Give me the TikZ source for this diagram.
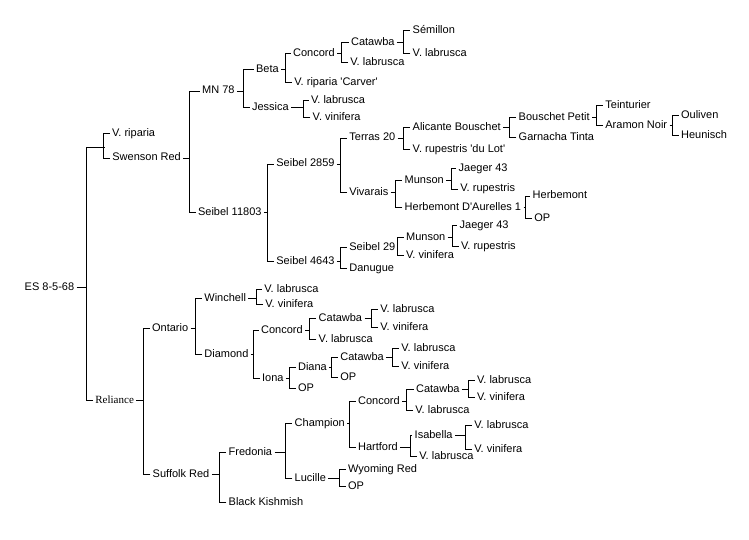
\documentclass[tikz,border=0pt]{standalone}
\usepackage{fontspec}
\setmainfont{Liberation Sans}
\newfontfamily\relfont{Liberation Serif}
\usepackage{tikz}
\usetikzlibrary{positioning}
\tikzstyle{vine node}=[anchor=west, xshift=-2pt, inner xsep=2pt, inner ysep=0pt, text height=8pt, text depth=2pt, font=\fontsize{11}{13}\selectfont]
\tikzstyle{cross node}=[inner sep=0pt, minimum size=0pt]
\newcommand{\parentage}[3]{%
  \draw (#3.west) -- ++(-6.5pt,0) coordinate (j) |- (#2.west);
  \draw (#1.east) -- (#1.east -| j);
}

\begin{document}
\begin{tikzpicture}[x=1pt, y=-1pt, line width=0.8pt]
\useasboundingbox (0,0) rectangle (749,540);
%
  \node[vine node] (es) at (24.3,287.3) {ES 8-5-68};
  \node[cross node] (cross) at (103.5,147) {};
%
  \node[vine node] (vrip) at (111.7,133.7) {V. riparia};
  \node[vine node] (swen) at (112,158) {Swenson Red};
  \node[vine node] (mn) at (201.7,91) {MN 78};
  \node[vine node] (s11803) at (197.7,212) {Seibel 11803};
  \node[vine node] (beta) at (255.7,69.3) {Beta};
  \node[vine node] (jess) at (251.7,107.7) {Jessica};
  \node[vine node] (conc1) at (292.7,53.3) {Concord};
  \node[vine node] (carver) at (294,82.3) {V. riparia \textquotesingle Carver\textquotesingle};
  \node[vine node] (cat1) at (350.7,42.3) {Catawba};
  \node[vine node] (lab1) at (350,62.3) {V. labrusca};
  \node[vine node] (sem) at (412.3,30.3) {Sémillon};
  \node[vine node] (lab2) at (412.3,53.3) {V. labrusca};
  \node[vine node] (lab3) at (310.7,100.7) {V. labrusca};
  \node[vine node] (vin3) at (312.3,117.3) {V. vinifera};
%
  \node[vine node] (s2859) at (276,164) {Seibel 2859};
  \node[vine node] (s4643) at (276,261) {Seibel 4643};
  \node[vine node] (terras) at (349,138) {Terras 20};
  \node[vine node] (viv) at (349,192.7) {Vivarais};
  \node[vine node] (ali) at (412.3,127.7) {Alicante Bouschet};
  \node[vine node] (lot) at (412.3,149.3) {V. rupestris \textquotesingle du Lot\textquotesingle};
  \node[vine node] (bp) at (518.3,117.3) {Bouschet Petit};
  \node[vine node] (gar) at (518.3,137.3) {Garnacha Tinta};
  \node[vine node] (tei) at (605,105.3) {Teinturier};
  \node[vine node] (ara) at (605,125.3) {Aramon Noir};
  \node[vine node] (oul) at (680.7,115.3) {Ouliven};
  \node[vine node] (heu) at (680.7,135.3) {Heunisch};
  \node[vine node] (mun1) at (404.3,180) {Munson};
  \node[vine node] (hda) at (404.3,207.3) {Herbemont D\textquotesingle Aurelles 1};
  \node[vine node] (jae1) at (458.3,168.3) {Jaeger 43};
  \node[vine node] (rup1) at (460,189) {V. rupestris};
  \node[vine node] (herb) at (532.3,196) {Herbemont};
  \node[vine node] (op1) at (534,218.3) {OP};
  \node[vine node] (s29) at (349,247.7) {Seibel 29};
  \node[vine node] (dan) at (349,268.7) {Danugue};
  \node[vine node] (mun2) at (405.7,237.3) {Munson};
  \node[vine node] (vin4) at (405.7,255) {V. vinifera};
  \node[vine node] (jae2) at (459.3,225) {Jaeger 43};
  \node[vine node] (rup2) at (460.7,246) {V. rupestris};
%
  \node[vine node, font=\fontsize{11}{13}\relfont] (rel) at (95,400.3) {Reliance};
  \node[vine node] (ont) at (151.7,328.3) {Ontario};
  \node[vine node] (suf) at (152.3,474) {Suffolk Red};
  \node[vine node] (win) at (204,298.3) {Winchell};
  \node[vine node] (dia) at (204,354) {Diamond};
  \node[vine node] (lab5) at (264,289) {V. labrusca};
  \node[vine node] (vin5) at (265,304) {V. vinifera};
  \node[vine node] (conc2) at (260.7,330.7) {Concord};
  \node[vine node] (iona) at (261.7,378.3) {Iona};
  \node[vine node] (cat2) at (318.3,318.3) {Catawba};
  \node[vine node] (lab6) at (318.3,339.3) {V. labrusca};
  \node[vine node] (lab7) at (380,309.3) {V. labrusca};
  \node[vine node] (vin7) at (380,327.3) {V. vinifera};
  \node[vine node] (diana) at (297.7,367.3) {Diana};
  \node[vine node] (op2) at (297.7,388.3) {OP};
  \node[vine node] (cat3) at (340,357.3) {Catawba};
  \node[vine node] (op3) at (340,377.3) {OP};
  \node[vine node] (lab8) at (401,348.3) {V. labrusca};
  \node[vine node] (vin8) at (401,366) {V. vinifera};
%
  \node[vine node] (fred) at (228.3,452.7) {Fredonia};
  \node[vine node] (bk) at (228.3,502.3) {Black Kishmish};
  \node[vine node] (champ) at (294.3,423.3) {Champion};
  \node[vine node] (luc) at (294.3,478.3) {Lucille};
  \node[vine node] (conc3) at (357.7,401) {Concord};
  \node[vine node] (hart) at (357.7,447.3) {Hartford};
  \node[vine node] (wyo) at (347.7,469.3) {Wyoming Red};
  \node[vine node] (op4) at (347.7,486.7) {OP};
  \node[vine node] (cat4) at (415.7,389) {Catawba};
  \node[vine node] (lab9) at (415,410) {V. labrusca};
  \node[vine node] (lab10) at (476.7,380) {V. labrusca};
  \node[vine node] (vin10) at (476.7,397.7) {V. vinifera};
  \node[vine node] (isa) at (414.3,435) {Isabella};
  \node[vine node] (lab11) at (419,456.7) {V. labrusca};
  \node[vine node] (lab12) at (474,425.7) {V. labrusca};
  \node[vine node] (vin12) at (474,449) {V. vinifera};
%
  \parentage{es}{cross}{rel}
  \parentage{cross}{vrip}{swen}
  \parentage{swen}{mn}{s11803}
  \parentage{mn}{beta}{jess}
  \parentage{beta}{conc1}{carver}
  \parentage{conc1}{cat1}{lab1}
  \parentage{cat1}{sem}{lab2}
  \parentage{jess}{lab3}{vin3}
  \parentage{s11803}{s2859}{s4643}
  \parentage{s2859}{terras}{viv}
  \parentage{terras}{ali}{lot}
  \parentage{ali}{bp}{gar}
  \parentage{bp}{tei}{ara}
  \parentage{ara}{oul}{heu}
  \parentage{viv}{mun1}{hda}
  \parentage{mun1}{jae1}{rup1}
  \parentage{hda}{herb}{op1}
  \parentage{s4643}{s29}{dan}
  \parentage{s29}{mun2}{vin4}
  \parentage{mun2}{jae2}{rup2}
%
  \parentage{rel}{ont}{suf}
  \parentage{ont}{win}{dia}
  \parentage{win}{lab5}{vin5}
  \parentage{dia}{conc2}{iona}
  \parentage{conc2}{cat2}{lab6}
  \parentage{cat2}{lab7}{vin7}
  \parentage{iona}{diana}{op2}
  \parentage{diana}{cat3}{op3}
  \parentage{cat3}{lab8}{vin8}
  \parentage{suf}{fred}{bk}
  \parentage{fred}{champ}{luc}
  \parentage{champ}{conc3}{hart}
  \parentage{luc}{wyo}{op4}
  \parentage{conc3}{cat4}{lab9}
  \parentage{cat4}{lab10}{vin10}
  \parentage{hart}{isa}{lab11}
  \parentage{isa}{lab12}{vin12}
%
\end{tikzpicture}
\end{document}
